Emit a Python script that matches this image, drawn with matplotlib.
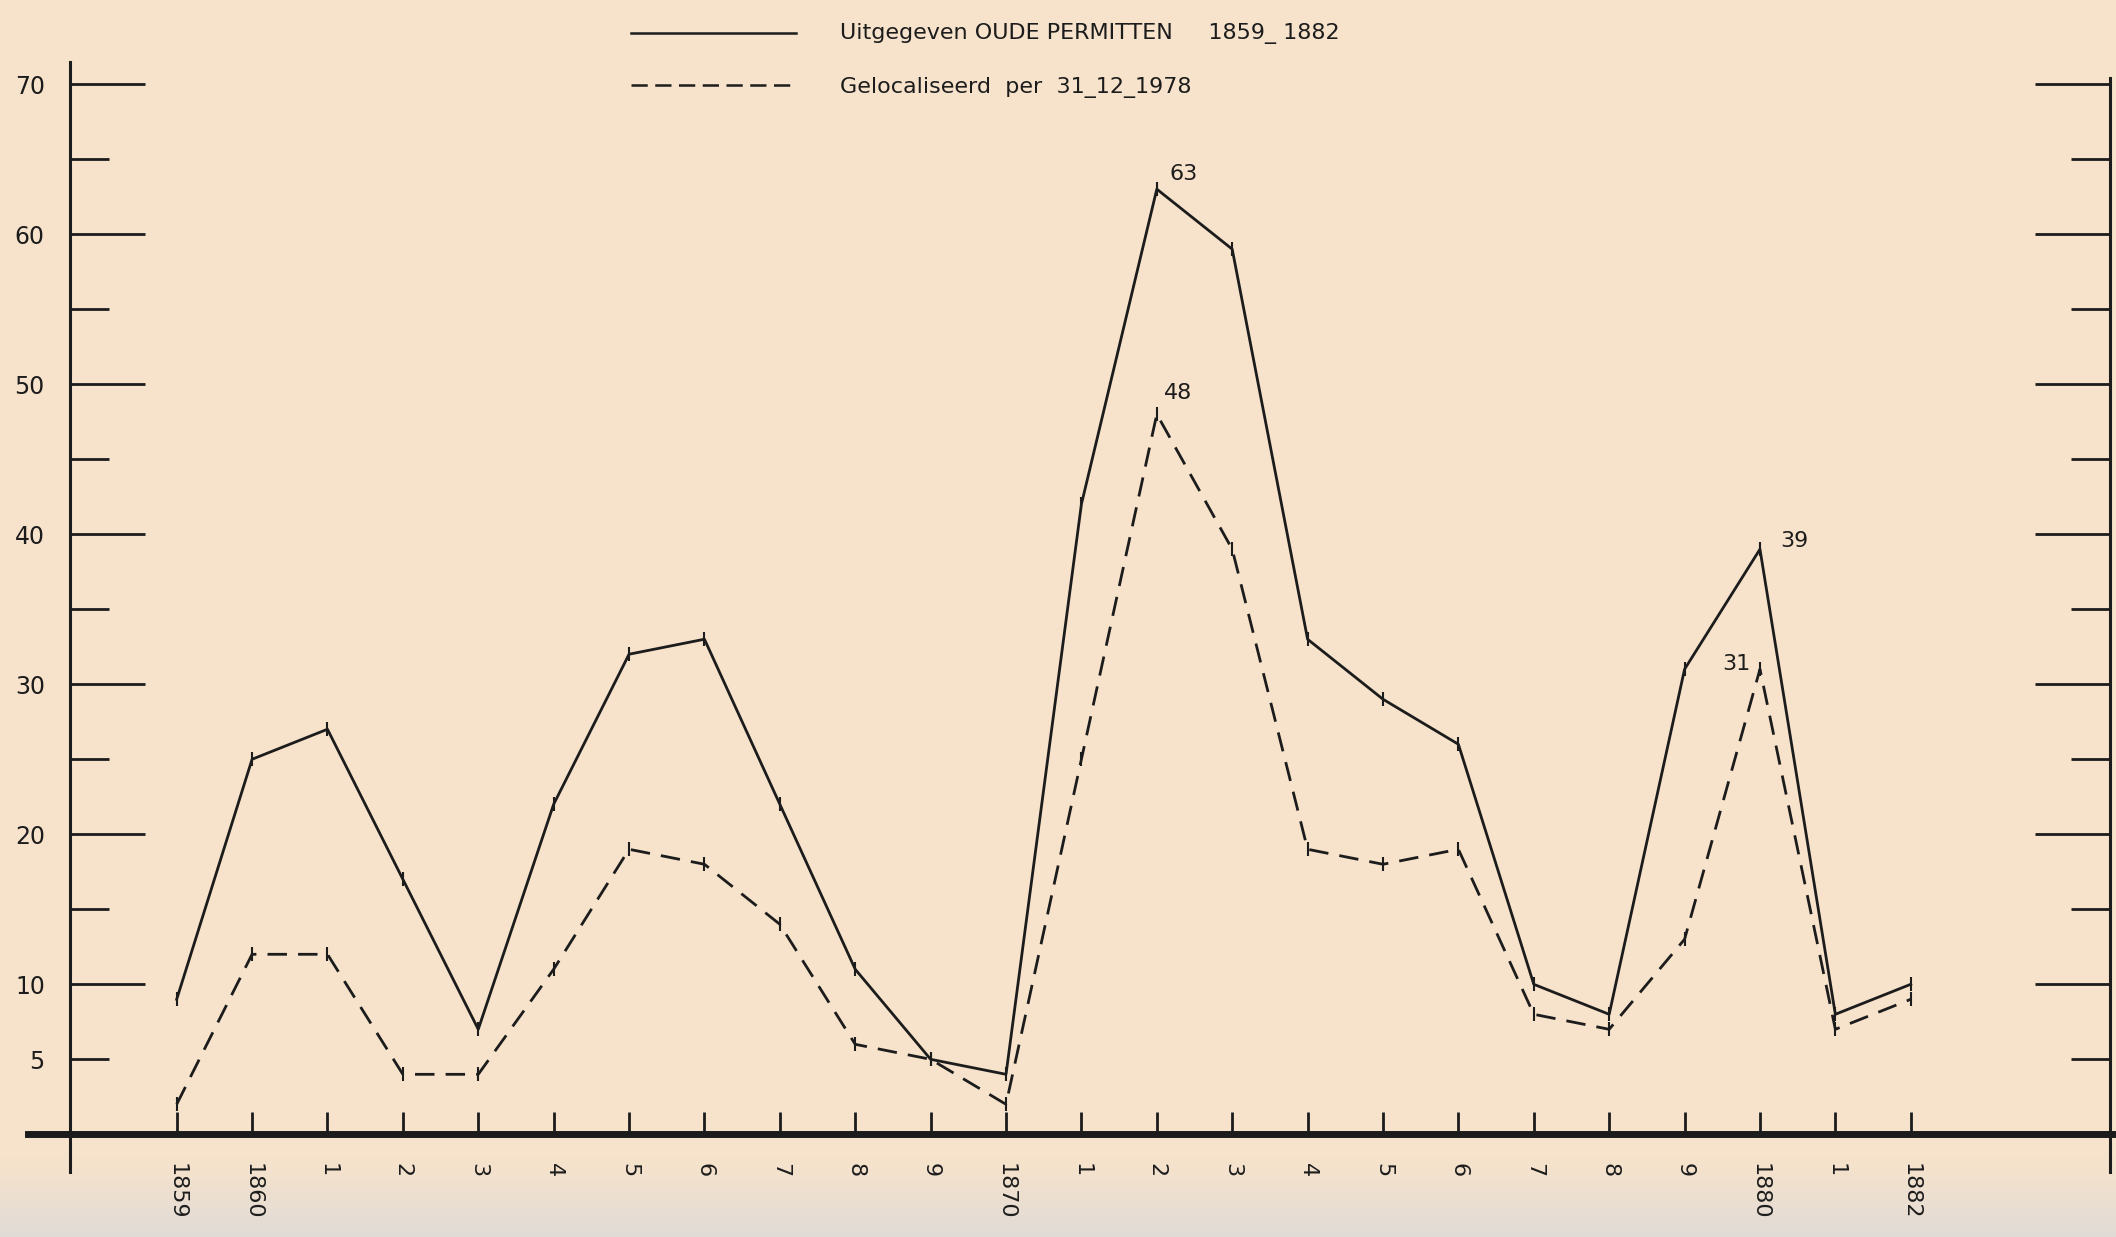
import matplotlib
matplotlib.use("Agg")
import numpy as np
import matplotlib.pyplot as plt
from matplotlib.lines import Line2D

# ---- data ----
years = list(range(1859, 1883))
year_labels = ['1859', '1860', '1', '2', '3', '4', '5', '6', '7', '8', '9',
               '1870', '1', '2', '3', '4', '5', '6', '7', '8', '9',
               '1880', '1', '1882']
uitgegeven = [9, 25, 27, 17, 7, 22, 32, 33, 22, 11, 5, 4,
              42, 63, 59, 33, 29, 26, 10, 8, 31, 39, 8, 10]
gelocaliseerd = [2, 12, 12, 4, 4, 11, 19, 18, 14, 6, 5, 2,
                 25, 48, 39, 19, 18, 19, 8, 7, 13, 31, 7, 9]
label_solid = "Uitgegeven OUDE PERMITTEN     1859_ 1882"
label_dashed = "Gelocaliseerd  per  31_12_1978"
y_major = [10, 20, 30, 40, 50, 60, 70]
y_minor = [5, 15, 25, 35, 45, 55, 65]
y_minor_labels = ['5', '', '', '', '', '', '']
crossing_years = [1859, 1860, 1870, 1880, 1882]
annotations = [(1872, 63, '63', (19, 11)), (1872, 48, '48', (15, 15)),
               (1880, 39, '39', (25, 6)), (1880, 31, '31', (-17, 4))]

plt.rcParams['font.family'] = ['DejaVu Sans']

bg = '#F7E3CB'
ink = '#1c1c1c'

fig = plt.figure(figsize=(21.16, 12.37), dpi=100, facecolor=bg)

# soft greyish tint of the scan along the bottom edge
band = fig.add_axes([0, 0, 1, 0.085], zorder=-5)
grad = np.zeros((60, 2, 4))
grad[..., 0] = 0.88
grad[..., 1] = 0.86
grad[..., 2] = 0.84
alpha = np.clip(np.linspace(0.95, -0.3, 60), 0, 1)
grad[..., 3] = alpha[:, None]
band.imshow(grad, aspect='auto', origin='lower', extent=[0, 1, 0, 1])
band.axis('off')

ax = fig.add_axes([0, 0, 1, 1])
ax.set_facecolor('none')

# map data to figure fractions
x0f, x1f = 0.0835, 0.903
per_year = (x1f - x0f) / 23
xl = 1859 - x0f / per_year
xr = 1859 + (1 - x0f) / per_year
y0f, y70f = 0.083, 0.932
per_unit = (y70f - y0f) / 70
yb = -y0f / per_unit
yt = (1 - y0f) / per_unit
ax.set_xlim(xl, xr)
ax.set_ylim(yb, yt)

left_x = xl + 0.033 * (xr - xl)
right_x = xl + 0.997 * (xr - xl)
line_start = xl + 0.013 * (xr - xl)

ax.plot(years, uitgegeven, color=ink, lw=2.0, marker='|', ms=10, mew=1.5)
ax.plot(years, gelocaliseerd, color=ink, lw=2.0, dashes=(7, 4), marker='|', ms=10, mew=1.5)

for x, y, t, off in annotations:
    ax.annotate(t, (x, y), xytext=off, textcoords='offset points',
                ha='center', va='center', fontsize=16, color=ink)

# spines
ax.spines['top'].set_visible(False)
ax.spines['left'].set_position(('data', left_x))
ax.spines['left'].set_bounds(-2.5, 71.5)
ax.spines['left'].set_linewidth(2.2)
ax.spines['right'].set_position(('data', right_x))
ax.spines['right'].set_bounds(-2.5, 70.4)
ax.spines['right'].set_linewidth(2.2)
ax.spines['bottom'].set_position(('data', 0))
ax.spines['bottom'].set_bounds(line_start, xr)
ax.spines['bottom'].set_linewidth(5)
for s in ('left', 'right', 'bottom'):
    ax.spines[s].set_color(ink)

ax.set_yticks(y_major)
ax.set_yticks(y_minor, labels=y_minor_labels, minor=True)
ax.yaxis.set_ticks_position('both')
ax.tick_params(axis='y', which='major', direction='in', length=54, width=2,
               pad=18, labelsize=17, colors=ink, left=True, right=True, labelright=False)
ax.tick_params(axis='y', which='minor', direction='in', length=28, width=2,
               pad=18, labelsize=17, colors=ink, left=True, right=True, labelright=False)

ax.set_xticks(years, labels=year_labels, rotation=270, ha='center', va='top')
ax.set_xticks(crossing_years, minor=True)
ax.tick_params(axis='x', which='major', direction='in', length=16, width=2,
               pad=21, labelsize=16, colors=ink)
ax.tick_params(axis='x', which='minor', direction='inout', length=34, width=2,
               colors=ink)

# legend (hand-lettered style at top)
fig.add_artist(Line2D([0.298, 0.376], [0.973, 0.973], transform=fig.transFigure,
                      color=ink, lw=1.8))
fig.add_artist(Line2D([0.298, 0.376], [0.931, 0.931], transform=fig.transFigure,
                      color=ink, lw=1.8, dashes=(6.5, 3)))
fig.text(0.397, 0.973, label_solid, fontsize=16, va='center', ha='left', color=ink)
fig.text(0.397, 0.929, label_dashed, fontsize=16, va='center', ha='left', color=ink)

fig.savefig('out.png', dpi=100, facecolor=bg)
